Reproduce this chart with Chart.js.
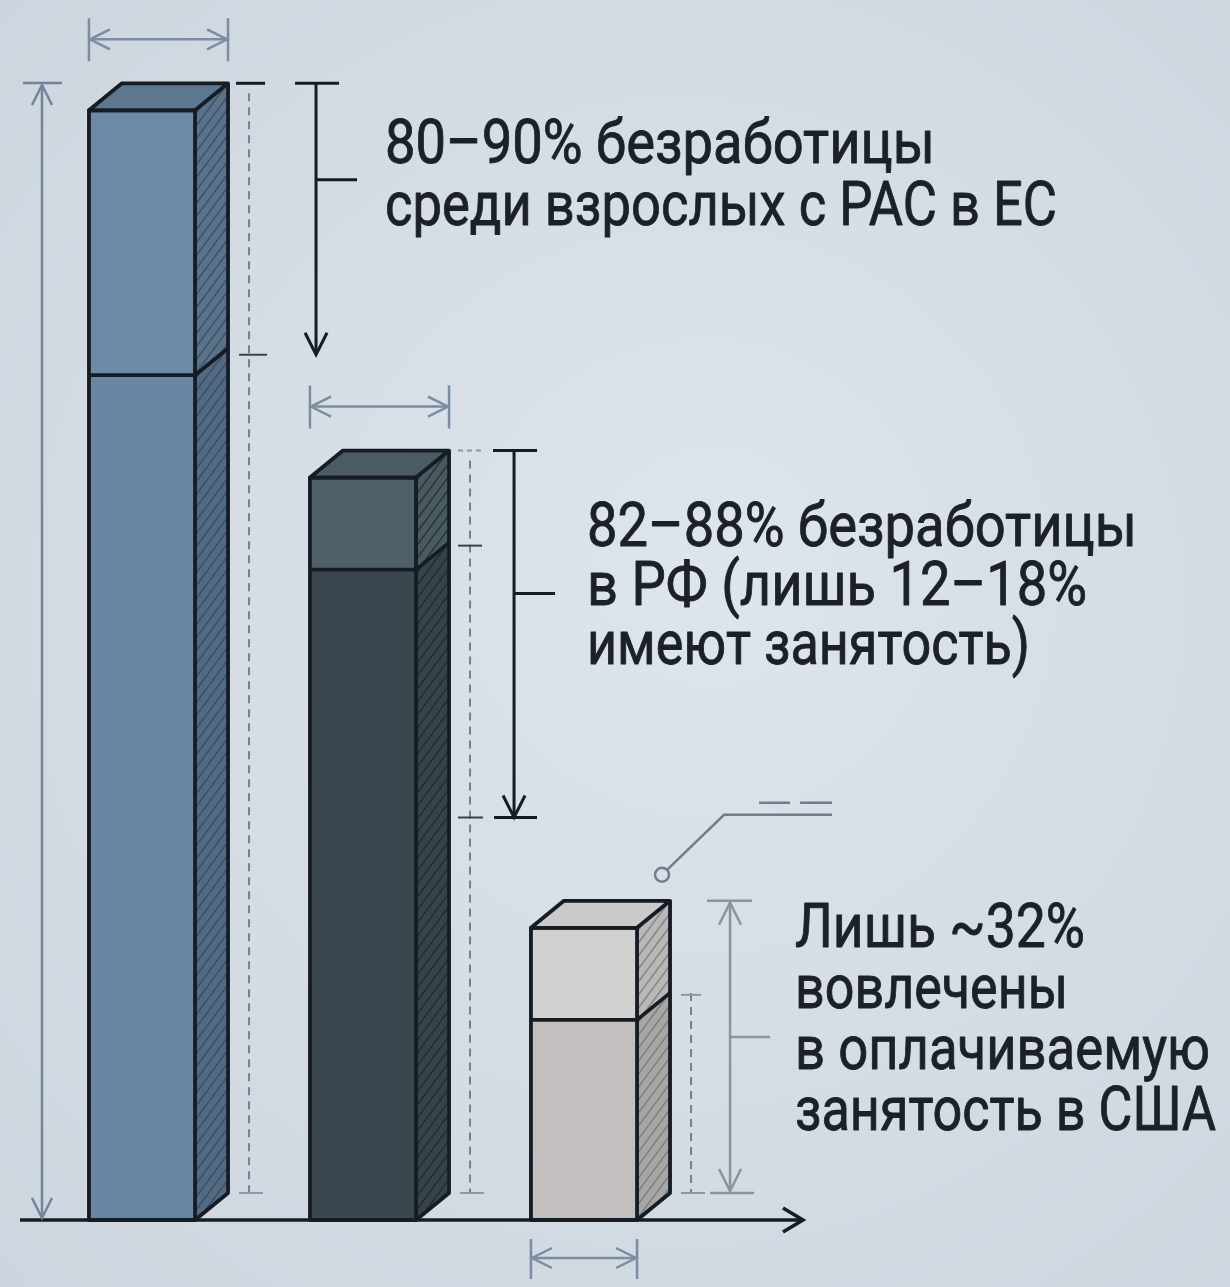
<!DOCTYPE html>
<html lang="ru">
<head>
<meta charset="utf-8">
<title>Безработица среди взрослых с РАС</title>
<script src="https://cdn.jsdelivr.net/npm/chart.js@4.4.1/dist/chart.umd.min.js"></script>
<style>
  html, body { margin: 0; padding: 0; background: #d3dae2; }
  #wrap { width: 1230px; height: 1287px; }
</style>
</head>
<body>
<div id="wrap"><canvas id="grafik" width="1230" height="1287"></canvas></div>
<script>
// Данные (высоты сегментов в единицах шкалы 0–100)
const kategorii = ['ЕС', 'РФ', 'США'];
const nizhniySegment = [74.3, 57.2, 17.6];
const verkhniySegment = [23.3, 8.1, 8.1];
const maksShkaly = 100;

// Уровни размерных стрелок (в единицах той же шкалы)
const konecStrelki = [76.1, 35.4, null];
const seredinaStrelki = [91.5, 55.1, 16.1];

// Подписи (ширина — чтобы строки заняли столько же места, сколько в макете)
const podpisi = [
    { x: 385, y: 163, shag: 62, stroki: ['80–90% безработицы', 'среди взрослых с РАС в ЕС'], shiriny: [550, 672] },
    { x: 587, y: 546, shag: 59, stroki: ['82–88% безработицы', 'в РФ (лишь 12–18%', 'имеют занятость)'], shiriny: [550, 500, 443] },
    { x: 795, y: 947, shag: 61, stroki: ['Лишь ~32%', 'вовлечены', 'в оплачиваемую', 'занятость в США'], shiriny: [290, 273, 415, 421] }
];

// Стиль
const GLUB_X = 33, GLUB_Y = -27;
const KONTUR = '#161c23';
const TEKST = '#1c2127';
const cveta = [
    { verh: '#6c89a6', niz: '#6a86a2', krysha: '#5d7791', bokV: '#5b728b', bokN: '#526a82', shtrih: 'rgba(38,52,68,0.5)' },
    { verh: '#4f6068', niz: '#3b474e', krysha: '#4b5b63', bokV: '#4a5a61', bokN: '#37434b', shtrih: 'rgba(18,25,30,0.55)' },
    { verh: '#d1d1d2', niz: '#c2bfbe', krysha: '#cacaca', bokV: '#b8b8b8', bokN: '#a7a6a6', shtrih: 'rgba(85,85,85,0.5)' }
];
const smeshchStrelki = [88, 65, 60];

// Вспомогательные функции рисования
function mnogougolnik(ctx, tochki) {
    ctx.beginPath();
    tochki.forEach((p, k) => k ? ctx.lineTo(p[0], p[1]) : ctx.moveTo(p[0], p[1]));
    ctx.closePath();
}

function shtrihovka(ctx, tochki, cvet) {
    ctx.save();
    mnogougolnik(ctx, tochki);
    ctx.clip();
    const xs = tochki.map(p => p[0]), ys = tochki.map(p => p[1]);
    const x0 = Math.min(...xs), x1 = Math.max(...xs);
    const y0 = Math.min(...ys), y1 = Math.max(...ys);
    ctx.strokeStyle = cvet;
    ctx.lineWidth = 1.5;
    for (let y = y0 - 60; y < y1 + 60; y += 13) {
        ctx.beginPath();
        ctx.moveTo(x0, y);
        ctx.lineTo(x1, y - (x1 - x0) * 1.35);
        ctx.stroke();
    }
    ctx.restore();
}

function liniya(ctx, x1, y1, x2, y2) {
    ctx.beginPath();
    ctx.moveTo(x1, y1);
    ctx.lineTo(x2, y2);
    ctx.stroke();
}

// острие в (x, y), направление (ux, uy)
function strelka(ctx, x, y, ux, uy, dl, sh) {
    const bx = x - ux * dl, by = y - uy * dl;
    ctx.beginPath();
    ctx.moveTo(bx - uy * sh, by + ux * sh);
    ctx.lineTo(x, y);
    ctx.lineTo(bx + uy * sh, by - ux * sh);
    ctx.stroke();
}

function geometriya(chart, i) {
    const niz = chart.getDatasetMeta(0).data[i];
    const verh = chart.getDatasetMeta(1).data[i];
    return {
        xL: niz.x - niz.width / 2,
        xR: niz.x + niz.width / 2,
        base: niz.base,
        split: niz.y,
        top: verh.y
    };
}

// Фон
const fon = {
    id: 'fon',
    beforeDraw(chart) {
        const ctx = chart.ctx;
        const g = ctx.createRadialGradient(720, 560, 50, 640, 640, 900);
        g.addColorStop(0, '#dde4eb');
        g.addColorStop(1, '#cdd5de');
        ctx.save();
        ctx.fillStyle = g;
        ctx.fillRect(0, 0, chart.width, chart.height);
        ctx.restore();
    }
};

// Объём столбцов: боковые грани, крыша, контуры
const obyom = {
    id: 'obyom',
    afterDatasetsDraw(chart) {
        const ctx = chart.ctx;
        ctx.save();
        kategorii.forEach((_, i) => {
            const g = geometriya(chart, i);
            const c = cveta[i];
            const bokN = [[g.xR, g.split], [g.xR + GLUB_X, g.split + GLUB_Y], [g.xR + GLUB_X, g.base + GLUB_Y], [g.xR, g.base]];
            const bokV = [[g.xR, g.top], [g.xR + GLUB_X, g.top + GLUB_Y], [g.xR + GLUB_X, g.split + GLUB_Y], [g.xR, g.split]];
            const krysha = [[g.xL, g.top], [g.xL + GLUB_X, g.top + GLUB_Y], [g.xR + GLUB_X, g.top + GLUB_Y], [g.xR, g.top]];

            ctx.fillStyle = c.bokN; mnogougolnik(ctx, bokN); ctx.fill();
            shtrihovka(ctx, bokN, c.shtrih);
            ctx.fillStyle = c.bokV; mnogougolnik(ctx, bokV); ctx.fill();
            shtrihovka(ctx, bokV, c.shtrih);
            ctx.fillStyle = c.krysha; mnogougolnik(ctx, krysha); ctx.fill();

            ctx.strokeStyle = KONTUR;
            ctx.lineWidth = 3.8;
            ctx.lineJoin = 'round';
            ctx.strokeRect(g.xL, g.top, g.xR - g.xL, g.base - g.top);
            liniya(ctx, g.xL, g.split, g.xR, g.split);
            liniya(ctx, g.xR, g.split, g.xR + GLUB_X, g.split + GLUB_Y);
            mnogougolnik(ctx, krysha); ctx.stroke();
            ctx.beginPath();
            ctx.moveTo(g.xR + GLUB_X, g.top + GLUB_Y);
            ctx.lineTo(g.xR + GLUB_X, g.base + GLUB_Y);
            ctx.lineTo(g.xR, g.base);
            ctx.stroke();
        });
        ctx.restore();
    }
};

// Размерные линии, ось и подписи
const razmetka = {
    id: 'razmetka',
    afterDraw(chart) {
        const ctx = chart.ctx;
        const y = chart.scales.y;
        ctx.save();
        ctx.lineCap = 'butt';

        // ось X
        const osY = y.getPixelForValue(0);
        ctx.strokeStyle = KONTUR;
        ctx.lineWidth = 3.5;
        liniya(ctx, 20, osY, 802, osY);
        ctx.lineJoin = 'miter';
        strelka(ctx, 803, osY, 1, 0, 20, 12);

        // левая вертикальная размерная стрелка
        const verhShk = y.getPixelForValue(maksShkaly);
        ctx.strokeStyle = '#72859a';
        ctx.lineWidth = 2.5;
        liniya(ctx, 42, verhShk + 2, 42, osY - 2);
        liniya(ctx, 23, verhShk, 62, verhShk);
        strelka(ctx, 42, verhShk + 2, 0, -1, 20, 10);
        strelka(ctx, 42, osY - 2, 0, 1, 20, 10);

        kategorii.forEach((_, i) => {
            const g = geometriya(chart, i);
            const zad = g.top + GLUB_Y;
            const xZ = g.xR + GLUB_X;

            // ширина столбца
            ctx.strokeStyle = '#7b8da1';
            ctx.lineWidth = 2.5;
            if (i < 2) {
                const yw = zad - 44;
                liniya(ctx, g.xL, yw - 21, g.xL, yw + 22);
                liniya(ctx, xZ, yw - 21, xZ, yw + 22);
                liniya(ctx, g.xL, yw, xZ, yw);
                strelka(ctx, g.xL + 1, yw, -1, 0, 20, 10);
                strelka(ctx, xZ - 1, yw, 1, 0, 20, 10);
            } else {
                const yw = osY + 38;
                liniya(ctx, g.xL, yw - 19, g.xL, yw + 21);
                liniya(ctx, g.xR, yw - 19, g.xR, yw + 21);
                liniya(ctx, g.xL, yw, g.xR, yw);
                strelka(ctx, g.xL + 1, yw, -1, 0, 20, 10);
                strelka(ctx, g.xR - 1, yw, 1, 0, 20, 10);
            }

            // пунктир рядом со столбцом
            const xp = xZ + 21;
            const pNach = i < 2 ? zad + 10 : g.split + GLUB_Y;
            ctx.strokeStyle = '#76818c';
            ctx.lineWidth = 2;
            ctx.setLineDash([8, 6]);
            liniya(ctx, xp, pNach, xp, g.base + GLUB_Y);
            ctx.setLineDash([]);
            ctx.strokeStyle = '#8f99a3';
            liniya(ctx, xp - 10, g.base + GLUB_Y, xp + 14, g.base + GLUB_Y);
            if (i === 0) {
                ctx.strokeStyle = KONTUR; ctx.lineWidth = 3;
                liniya(ctx, xp - 13, zad, xp + 16, zad);
                ctx.strokeStyle = '#3a424a'; ctx.lineWidth = 2;
                liniya(ctx, xp - 10, y.getPixelForValue(konecStrelki[0]), xp + 18, y.getPixelForValue(konecStrelki[0]));
            } else if (i === 1) {
                ctx.strokeStyle = '#8a96a2'; ctx.setLineDash([5, 4]);
                liniya(ctx, xp - 12, zad, xp + 12, zad);
                ctx.setLineDash([]);
                ctx.strokeStyle = '#3a424a';
                liniya(ctx, xp - 12, g.split + GLUB_Y + 3, xp + 12, g.split + GLUB_Y + 3);
                liniya(ctx, xp - 12, y.getPixelForValue(konecStrelki[1]), xp + 13, y.getPixelForValue(konecStrelki[1]));
            } else {
                ctx.strokeStyle = '#8f99a3';
                liniya(ctx, xp - 10, g.split + GLUB_Y + 2, xp + 10, g.split + GLUB_Y + 2);
            }

            // размерная стрелка к подписи
            const xs = xZ + smeshchStrelki[i];
            const ySer = y.getPixelForValue(seredinaStrelki[i]);
            if (i < 2) {
                const yk = y.getPixelForValue(konecStrelki[i]);
                ctx.strokeStyle = KONTUR;
                ctx.lineWidth = 3;
                liniya(ctx, xs - 21, zad, xs + 23, zad);
                liniya(ctx, xs, zad, xs, yk - 2);
                ctx.lineJoin = 'miter';
                strelka(ctx, xs, yk, 0, 1, 22, 11);
                liniya(ctx, xs, ySer, xs + 41, ySer);
                if (i === 1) liniya(ctx, xs - 20, yk, xs + 23, yk);
            } else {
                const yn = g.base + GLUB_Y;
                ctx.strokeStyle = '#8a949d';
                ctx.lineWidth = 2.5;
                liniya(ctx, xs - 23, zad, xs + 22, zad);
                liniya(ctx, xs, zad + 2, xs, yn - 2);
                strelka(ctx, xs, zad + 2, 0, -1, 22, 11);
                strelka(ctx, xs, yn - 2, 0, 1, 22, 11);
                liniya(ctx, xs - 20, yn, xs + 24, yn);
                liniya(ctx, xs, ySer, xs + 40, ySer);

                // выноска с кружком
                ctx.strokeStyle = '#707e8b';
                ctx.lineWidth = 2.5;
                const kx = xZ - 8, ky = zad - 26;
                ctx.beginPath(); ctx.arc(kx, ky, 7, 0, Math.PI * 2); ctx.stroke();
                ctx.beginPath();
                ctx.moveTo(kx + 5, ky - 5);
                ctx.lineTo(kx + 62, ky - 60);
                ctx.lineTo(kx + 170, ky - 60);
                ctx.stroke();
                liniya(ctx, kx + 97, ky - 72, kx + 128, ky - 72);
                liniya(ctx, kx + 138, ky - 72, kx + 170, ky - 72);
            }
        });

        // подписи
        ctx.fillStyle = TEKST;
        ctx.strokeStyle = TEKST;
        ctx.lineWidth = 0.9;
        ctx.lineJoin = 'round';
        ctx.textBaseline = 'alphabetic';
        ctx.font = '62px Roboto';
        podpisi.forEach(p => {
            p.stroki.forEach((s, k) => {
                const szhatie = p.shiriny[k] / ctx.measureText(s).width;
                ctx.save();
                ctx.translate(p.x, p.y + k * p.shag);
                ctx.scale(szhatie, 1);
                ctx.fillText(s, 0, 0);
                ctx.strokeText(s, 0, 0);
                ctx.restore();
            });
        });
        ctx.restore();
    }
};

const ctx = document.getElementById('grafik').getContext('2d');
new Chart(ctx, {
    type: 'bar',
    data: {
        labels: kategorii,
        datasets: [
            { label: 'нижний сегмент', data: nizhniySegment, backgroundColor: cveta.map(c => c.niz), borderWidth: 0 },
            { label: 'верхний сегмент', data: verkhniySegment, backgroundColor: cveta.map(c => c.verh), borderWidth: 0 }
        ]
    },
    options: {
        responsive: false,
        animation: false,
        devicePixelRatio: 1,
        layout: { padding: { top: 83, bottom: 67, left: 31.5, right: 535.5 } },
        datasets: { bar: { categoryPercentage: 1, barPercentage: 0.48 } },
        scales: {
            x: { stacked: true, display: false, offset: true },
            y: { stacked: true, display: false, min: 0, max: maksShkaly }
        },
        plugins: { legend: { display: false }, tooltip: { enabled: false } }
    },
    plugins: [fon, obyom, razmetka]
});
</script>
</body>
</html>
